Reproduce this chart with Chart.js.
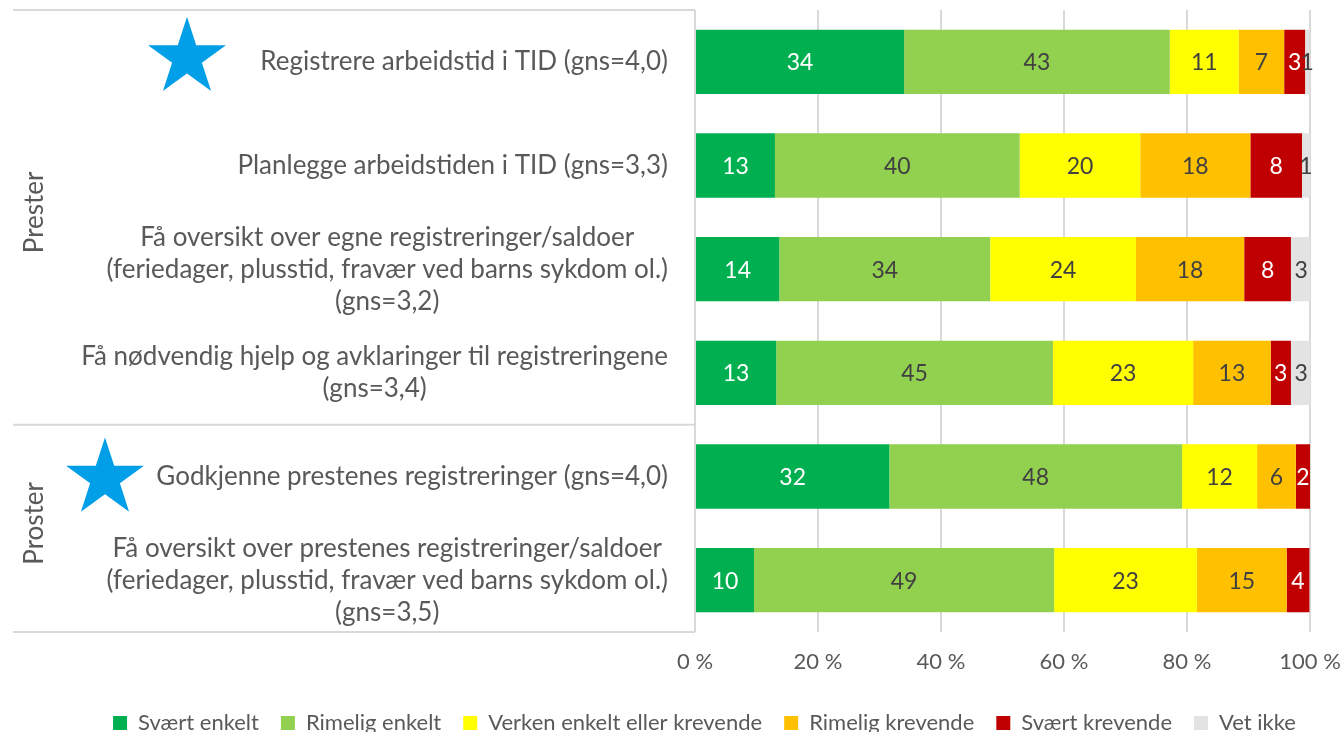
<!DOCTYPE html>
<html>
<head>
<meta charset="utf-8">
<script src="https://cdn.jsdelivr.net/npm/chart.js@4/dist/chart.umd.min.js"></script>
<style>
  html, body { margin: 0; padding: 0; background: #fff; overflow: hidden; }
  body { width: 1340px; height: 732px; }
</style>
</head>
<body>
<canvas id="chart" width="1340" height="744"></canvas>
<script>
// categories (multi-line labels, top to bottom)
const categories = [
  ["Registrere arbeidstid i TID (gns=4,0)"],
  ["Planlegge arbeidstiden i TID (gns=3,3)"],
  ["Få oversikt over egne registreringer/saldoer", "(feriedager, plusstid, fravær ved barns sykdom ol.)", "(gns=3,2)"],
  ["Få nødvendig hjelp og avklaringer til registreringene", "(gns=3,4)"],
  ["Godkjenne prestenes registreringer (gns=4,0)"],
  ["Få oversikt over prestenes registreringer/saldoer", "(feriedager, plusstid, fravær ved barns sykdom ol.)", "(gns=3,5)"]
];
const groupLabels = ["Prester", "Proster"];
const groupFirstRow = [0, 4];
const starRows = [0, 4];

const seriesNames = ["Svært enkelt", "Rimelig enkelt", "Verken enkelt eller krevende", "Rimelig krevende", "Svært krevende", "Vet ikke"];
const svaertEnkelt   = [34.0, 13.0, 13.7, 13.2, 31.6, 9.6];
const rimeligEnkelt  = [43.2, 39.8, 34.3, 45.0, 47.6, 48.8];
const verken         = [11.2, 19.6, 23.7, 22.8, 12.2, 23.2];
const rimeligKrev    = [7.4, 17.9, 17.6, 12.6, 6.3, 14.6];
const svaertKrev     = [3.4, 8.4, 7.6, 3.3, 2.3, 3.7];
const vetIkke        = [0.7, 1.3, 3.3, 3.3, 0, 0];
const xTicks = [0, 20, 40, 60, 80, 100];

const colors = ["#00B050", "#92D050", "#FFFF00", "#FFC000", "#C00000", "#E3E3E3"];
const labelColors = ["#ffffff", "#404040", "#404040", "#404040", "#ffffff", "#404040"];
const textGrey = "#595959";
const FONT = "Lato, 'Open Sans', sans-serif";

const allSeries = [svaertEnkelt, rimeligEnkelt, verken, rimeligKrev, svaertKrev, vetIkke];

// value labels inside the bars
const valueLabels = {
  id: "valueLabels",
  afterDatasetsDraw(chart) {
    const ctx = chart.ctx;
    ctx.save();
    ctx.font = "23px " + FONT;
    ctx.textAlign = "center";
    ctx.textBaseline = "middle";
    chart.data.datasets.forEach((ds, i) => {
      const meta = chart.getDatasetMeta(i);
      meta.data.forEach((bar, j) => {
        const v = ds.data[j];
        if (!v) return;
        ctx.fillStyle = labelColors[i];
        ctx.fillText(String(Math.round(v)), (bar.x + bar.base) / 2, bar.y + 1);
      });
    });
    ctx.restore();
  }
};

function drawStar(ctx, cx, cy, r) {
  ctx.beginPath();
  for (let k = 0; k < 10; k++) {
    const rad = k % 2 === 0 ? r : r * 0.382;
    const a = -Math.PI / 2 + k * Math.PI / 5;
    const px = cx + rad * Math.cos(a), py = cy + rad * Math.sin(a);
    if (k === 0) ctx.moveTo(px, py); else ctx.lineTo(px, py);
  }
  ctx.closePath();
  ctx.fill();
}

// left side "table": category texts, group names, separators, stars
const leftTable = {
  id: "leftTable",
  afterDraw(chart) {
    const ctx = chart.ctx;
    const y = chart.scales.y;
    const area = chart.chartArea;
    const rowH = y.getPixelForValue(1) - y.getPixelForValue(0);
    ctx.save();

    // separators
    ctx.strokeStyle = "#D9D9D9";
    ctx.lineWidth = 2;
    const seps = [area.top, y.getPixelForValue(groupFirstRow[1]) - rowH / 2, area.bottom];
    seps.forEach(sy => {
      ctx.beginPath();
      ctx.moveTo(13, sy);
      ctx.lineTo(area.left, sy);
      ctx.stroke();
    });

    // category labels
    ctx.font = "26px " + FONT;
    ctx.fillStyle = textGrey;
    ctx.textAlign = "center";
    ctx.textBaseline = "middle";
    const rightEdge = area.left - 27;
    const lineGap = 32;
    categories.forEach((lines, i) => {
      const cy = y.getPixelForValue(i);
      const w = Math.max(...lines.map(l => ctx.measureText(l).width));
      const cx = rightEdge - w / 2;
      lines.forEach((l, k) => {
        ctx.fillText(l, cx, cy + (k - (lines.length - 1) / 2) * lineGap);
      });
    });

    // group labels (rotated)
    groupLabels.forEach((g, i) => {
      const first = groupFirstRow[i];
      const last = i + 1 < groupFirstRow.length ? groupFirstRow[i + 1] - 1 : categories.length - 1;
      const top = y.getPixelForValue(first) - rowH / 2;
      const bot = y.getPixelForValue(last) + rowH / 2;
      ctx.save();
      ctx.translate(35, (top + bot) / 2 - 5);
      ctx.rotate(-Math.PI / 2);
      ctx.fillText(g, 0, 0);
      ctx.restore();
    });

    // stars
    ctx.fillStyle = "#009FE8";
    const starX = [187, 105];
    const starDy = [-4, 2];
    starRows.forEach((r, i) => {
      drawStar(ctx, starX[i], y.getPixelForValue(r) + starDy[i], 41);
    });
    ctx.restore();
  }
};

new Chart(document.getElementById("chart"), {
  type: "bar",
  data: {
    labels: categories,
    datasets: seriesNames.map((name, i) => ({
      label: name,
      data: allSeries[i],
      backgroundColor: colors[i],
      borderWidth: 0,
      barPercentage: 0.62,
      categoryPercentage: 1
    }))
  },
  options: {
    indexAxis: "y",
    responsive: false,
    animation: false,
    layout: { padding: { left: 69, right: 0, top: 10, bottom: 0 } },
    scales: {
      x: {
        stacked: true,
        min: 0,
        max: 100,
        afterBuildTicks: s => { s.ticks = xTicks.map(v => ({ value: v })); },
        afterFit: s => { s.height = 58; s.paddingRight = 30; },
        grid: { color: "#D9D9D9", lineWidth: 2, drawTicks: false },
        border: { display: false },
        ticks: {
          padding: 17,
          color: textGrey,
          font: { family: FONT, size: 22 },
          callback: v => v + " %"
        }
      },
      y: {
        stacked: true,
        afterFit: s => { s.width = 626; },
        grid: { display: false },
        border: { display: false },
        ticks: { display: false }
      }
    },
    plugins: {
      legend: {
        position: "bottom",
        labels: {
          boxWidth: 14,
          boxHeight: 14,
          padding: 22,
          color: textGrey,
          font: { family: FONT, size: 22 }
        }
      },
      tooltip: { enabled: false }
    }
  },
  plugins: [valueLabels, leftTable]
});
</script>
</body>
</html>
